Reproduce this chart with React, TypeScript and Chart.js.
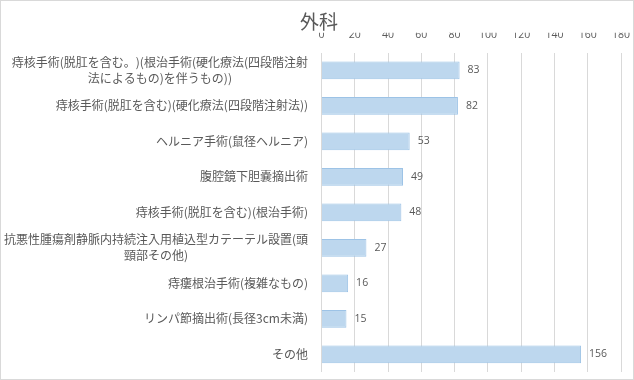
import React, { useEffect, useRef } from "react";
import { Chart, registerables } from "chart.js";

Chart.register(...registerables);

const chartTitle = "外科";
const categories: string[][] = [
  ["痔核手術(脱肛を含む。)(根治手術(硬化療法(四段階注射", "法によるもの)を伴うもの))"],
  ["痔核手術(脱肛を含む)(硬化療法(四段階注射法))"],
  ["ヘルニア手術(鼠径ヘルニア)"],
  ["腹腔鏡下胆嚢摘出術"],
  ["痔核手術(脱肛を含む)(根治手術)"],
  ["抗悪性腫瘍剤静脈内持続注入用植込型カテーテル設置(頭", "頸部その他)"],
  ["痔瘻根治手術(複雑なもの)"],
  ["リンパ節摘出術(長径3cm未満)"],
  ["その他"],
];
const values: number[] = [83, 82, 53, 49, 48, 27, 16, 15, 156];
const xMin = 0;
const xMax = 180;
const xStep = 20;

const TEXT_COLOR = "#595959";
const GRID_COLOR = "#D9D9D9";
const CJK_FONT = "'Noto Sans CJK JP', 'Noto Sans', sans-serif";
const NUM_FONT = "'Open Sans', 'Liberation Sans', sans-serif";

const yLabelPlugin = {
  id: "yLabelPlugin",
  afterDraw(chart: any) {
    const scale = chart.scales.y;
    const ctx = chart.ctx;
    ctx.save();
    ctx.font = `12px ${CJK_FONT}`;
    ctx.fillStyle = TEXT_COLOR;
    ctx.textAlign = "center";
    ctx.textBaseline = "middle";
    const right = chart.chartArea.left - 13.5;
    const lh = 16;
    categories.forEach((lines, i) => {
      const y = scale.getPixelForTick(i);
      const w = Math.max(...lines.map((l) => ctx.measureText(l).width));
      const cx = right - w / 2;
      lines.forEach((line, j) => {
        ctx.fillText(line, cx, y + (j - (lines.length - 1) / 2) * lh);
      });
    });
    ctx.restore();
  },
};

const dataLabelPlugin = {
  id: "dataLabelPlugin",
  afterDatasetsDraw(chart: any) {
    const ctx = chart.ctx;
    const meta = chart.getDatasetMeta(0);
    ctx.save();
    ctx.font = `10.5px ${NUM_FONT}`;
    ctx.fillStyle = TEXT_COLOR;
    ctx.textAlign = "left";
    ctx.textBaseline = "middle";
    meta.data.forEach((bar: any, i: number) => {
      ctx.fillText(String(values[i]), bar.x + 8, bar.y);
    });
    ctx.restore();
  },
};

export default function App() {
  const ref = useRef<HTMLCanvasElement | null>(null);

  useEffect(() => {
    if (!ref.current) return;
    const chart = new Chart(ref.current, {
      type: "bar",
      data: {
        labels: categories.map((c) => c.join("")),
        datasets: [
          {
            data: values,
            backgroundColor: "#BDD7EE",
            borderColor: "#9DC3E6",
            borderWidth: 1,
            barPercentage: 0.5,
            categoryPercentage: 1.0,
          },
        ],
      },
      options: {
        indexAxis: "y",
        responsive: false,
        animation: false,
        devicePixelRatio: 1,
        layout: { padding: { left: 16, right: 12, top: 0, bottom: 7 } },
        plugins: {
          legend: { display: false },
          tooltip: { enabled: false },
          title: {
            display: true,
            text: chartTitle,
            color: TEXT_COLOR,
            font: { family: CJK_FONT, size: 19, weight: "normal", lineHeight: 1.2 },
            padding: { top: 9, bottom: 0 },
          },
        },
        scales: {
          x: {
            type: "linear",
            position: "top",
            min: xMin,
            max: xMax,
            ticks: {
              stepSize: xStep,
              color: TEXT_COLOR,
              font: { family: NUM_FONT, size: 10.5 },
              padding: 0,
            },
            grid: {
              color: GRID_COLOR,
              drawTicks: true,
              tickLength: 11,
              tickColor: "rgba(0,0,0,0)",
            },
            border: { display: false },
            afterFit: (scale: any) => {
              scale.height = 19.7;
            },
          },
          y: {
            type: "category",
            ticks: { display: false },
            grid: { display: false, drawTicks: false },
            border: { display: false },
            afterFit: (scale: any) => {
              scale.width = 304.5;
            },
          },
        },
      },
      plugins: [yLabelPlugin, dataLabelPlugin],
    } as any);
    return () => chart.destroy();
  }, []);

  return (
    <div
      style={{
        position: "fixed",
        left: 0,
        top: 0,
        width: 634,
        height: 380,
        boxSizing: "border-box",
        border: `1px solid ${GRID_COLOR}`,
        background: "#fff",
      }}
    >
      <canvas ref={ref} width={632} height={378} style={{ display: "block" }} />
    </div>
  );
}
